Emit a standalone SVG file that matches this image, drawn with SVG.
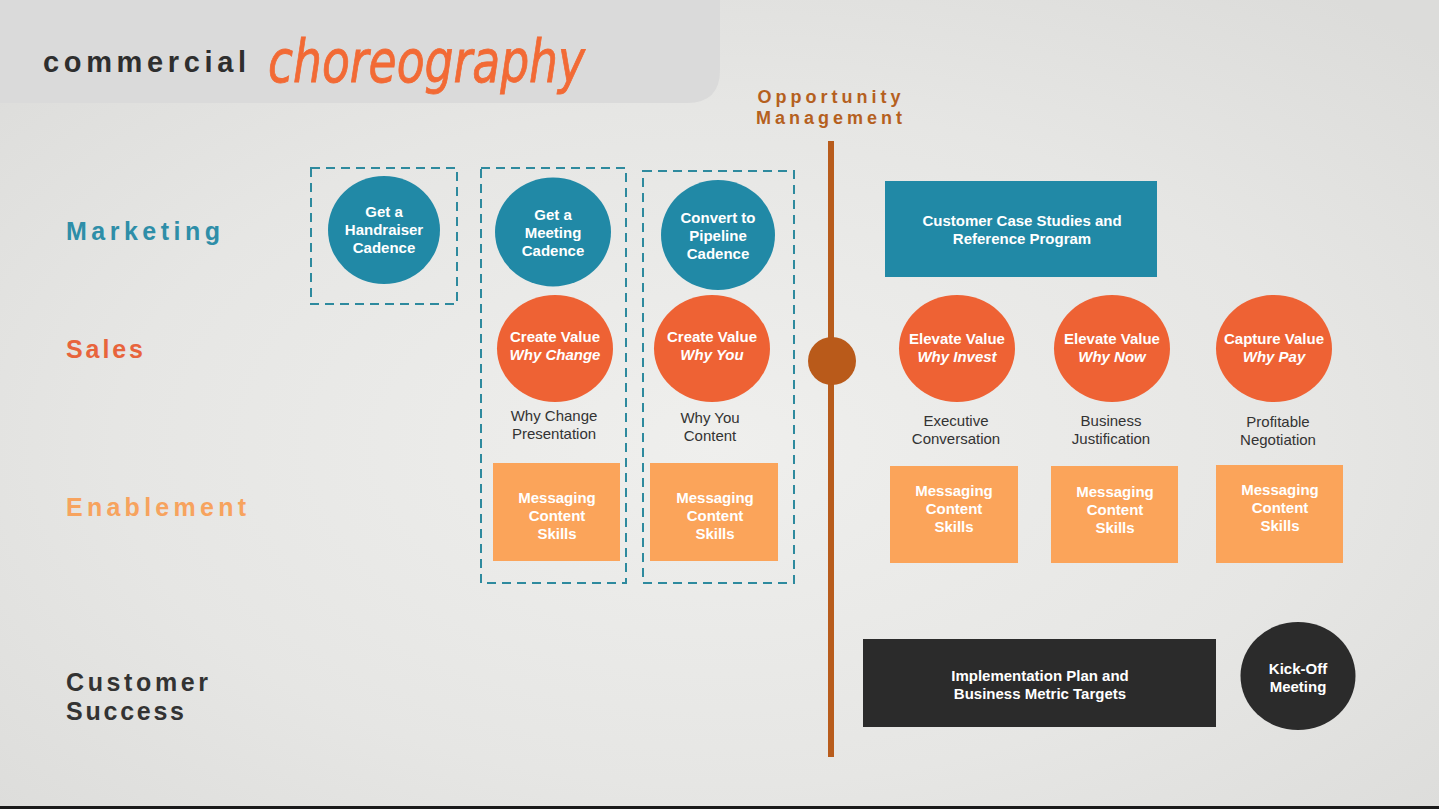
<svg xmlns="http://www.w3.org/2000/svg" width="1439" height="809" viewBox="0 0 1439 809">
<defs>
<radialGradient id="bg" cx="0.5" cy="0.55" r="0.7">
<stop offset="0" stop-color="#efefed"/>
<stop offset="0.6" stop-color="#e6e6e4"/>
<stop offset="1" stop-color="#dcdcda"/>
</radialGradient>
<style>
.t{font-family:"Liberation Sans",Arial,sans-serif;}
.w{fill:#ffffff;font-weight:bold;font-size:15px;text-anchor:middle;}
.wi{font-style:italic;}
.d{fill:#333333;font-size:15px;text-anchor:middle;}
.lane{font-weight:bold;font-size:25px;letter-spacing:4px;}
.teal{fill:#2189a6;}
.org{fill:#ee6234;}
.lt{fill:#fba45a;}
.dk{fill:#2b2b2b;}
.dash{fill:none;stroke:#2e8a9e;stroke-width:2;stroke-dasharray:9,6;}
</style>
</defs>
<rect x="0" y="0" width="1439" height="809" fill="url(#bg)"/>
<path d="M0 0 H720 V70 Q720 103 687 103 H0 Z" fill="#dadada"/>
<rect x="0" y="806" width="1439" height="3" fill="#1a1a1a"/>
<g id="title">
<text class="t" x="43" y="72" font-size="29" font-weight="bold" fill="#2e2e2e" letter-spacing="2" textLength="205">commercial</text>
<text x="268" y="82" font-family="'DejaVu Sans Condensed','DejaVu Sans',sans-serif" font-size="58" font-style="oblique" fill="#f26a35" stroke="#f26a35" stroke-width="0.8" textLength="317" lengthAdjust="spacingAndGlyphs">choreography</text>
</g>
<g id="lanes" class="t">
<text class="lane" x="66" y="240" fill="#2e8ea8" textLength="158">Marketing</text>
<text class="lane" x="66" y="358" fill="#e8643c" textLength="81">Sales</text>
<text class="lane" x="66" y="516" fill="#f7a35e" textLength="184">Enablement</text>
<text class="lane" x="66" y="691" fill="#333333" textLength="146">Customer</text>
<text class="lane" x="66" y="720" fill="#333333" textLength="122">Success</text>
</g>
<g id="connectors">
<rect class="dash" x="311" y="168" width="146" height="136"/>
<rect class="dash" x="481" y="168" width="145" height="415"/>
<rect class="dash" x="643" y="171" width="151" height="412"/>
<rect x="828" y="141" width="6" height="616" fill="#b85c1c"/>
</g>
<g id="opportunity">
<text class="t" x="831" y="103" font-size="18" font-weight="bold" fill="#b5601e" text-anchor="middle" letter-spacing="4">Opportunity</text>
<text class="t" x="831" y="124" font-size="18" font-weight="bold" fill="#b5601e" text-anchor="middle" letter-spacing="4">Management</text>
<circle cx="832" cy="361" r="24" fill="#b95a1a"/>
</g>
<g id="handraiser" class="t">
<ellipse class="teal" cx="384" cy="230" rx="56" ry="54"/>
<text class="w" x="384" y="217">Get a</text>
<text class="w" x="384" y="235">Handraiser</text>
<text class="w" x="384" y="253">Cadence</text>
</g>
<g id="meeting" class="t">
<ellipse class="teal" cx="553" cy="232" rx="58" ry="54.5"/>
<text class="w" x="553" y="220">Get a</text>
<text class="w" x="553" y="238">Meeting</text>
<text class="w" x="553" y="256">Cadence</text>
</g>
<g id="pipeline" class="t">
<ellipse class="teal" cx="718" cy="235" rx="57" ry="55"/>
<text class="w" x="718" y="223">Convert to</text>
<text class="w" x="718" y="241">Pipeline</text>
<text class="w" x="718" y="259">Cadence</text>
</g>
<g id="whychange" class="t">
<ellipse class="org" cx="555" cy="348.5" rx="58" ry="53.5"/>
<text class="w" x="555" y="342">Create Value</text>
<text class="w wi" x="555" y="360">Why Change</text>
<text class="d" x="554" y="421">Why Change</text>
<text class="d" x="554" y="439">Presentation</text>
</g>
<g id="whyyou" class="t">
<ellipse class="org" cx="712" cy="348.5" rx="58" ry="53.5"/>
<text class="w" x="712" y="342">Create Value</text>
<text class="w wi" x="712" y="360">Why You</text>
<text class="d" x="710" y="423">Why You</text>
<text class="d" x="710" y="441">Content</text>
</g>
<g id="whyinvest" class="t">
<ellipse class="org" cx="957" cy="348.5" rx="58" ry="53.5"/>
<text class="w" x="957" y="344">Elevate Value</text>
<text class="w wi" x="957" y="362">Why Invest</text>
<text class="d" x="956" y="426">Executive</text>
<text class="d" x="956" y="444">Conversation</text>
</g>
<g id="whynow" class="t">
<ellipse class="org" cx="1112" cy="348.5" rx="58" ry="53.5"/>
<text class="w" x="1112" y="344">Elevate Value</text>
<text class="w wi" x="1112" y="362">Why Now</text>
<text class="d" x="1111" y="426">Business</text>
<text class="d" x="1111" y="444">Justification</text>
</g>
<g id="whypay" class="t">
<ellipse class="org" cx="1274" cy="348.5" rx="58" ry="53.5"/>
<text class="w" x="1274" y="344">Capture Value</text>
<text class="w wi" x="1274" y="362">Why Pay</text>
<text class="d" x="1278" y="427">Profitable</text>
<text class="d" x="1278" y="445">Negotiation</text>
</g>
<g id="enable1" class="t">
<rect class="lt" x="493" y="463" width="127" height="98"/>
<text class="w" x="557" y="503">Messaging</text>
<text class="w" x="557" y="521">Content</text>
<text class="w" x="557" y="539">Skills</text>
</g>
<g id="enable2" class="t">
<rect class="lt" x="650" y="463" width="128" height="98"/>
<text class="w" x="715" y="503">Messaging</text>
<text class="w" x="715" y="521">Content</text>
<text class="w" x="715" y="539">Skills</text>
</g>
<g id="enable3" class="t">
<rect class="lt" x="890" y="466" width="128" height="97"/>
<text class="w" x="954" y="496">Messaging</text>
<text class="w" x="954" y="514">Content</text>
<text class="w" x="954" y="532">Skills</text>
</g>
<g id="enable4" class="t">
<rect class="lt" x="1051" y="466" width="127" height="97"/>
<text class="w" x="1115" y="497">Messaging</text>
<text class="w" x="1115" y="515">Content</text>
<text class="w" x="1115" y="533">Skills</text>
</g>
<g id="enable5" class="t">
<rect class="lt" x="1216" y="465" width="127" height="98"/>
<text class="w" x="1280" y="495">Messaging</text>
<text class="w" x="1280" y="513">Content</text>
<text class="w" x="1280" y="531">Skills</text>
</g>
<g id="casestudies" class="t">
<rect class="teal" x="885" y="181" width="272" height="96"/>
<text class="w" x="1022" y="226">Customer Case Studies and</text>
<text class="w" x="1022" y="244">Reference Program</text>
</g>
<g id="implementation" class="t">
<rect class="dk" x="863" y="639" width="353" height="88"/>
<text class="w" x="1040" y="681">Implementation Plan and</text>
<text class="w" x="1040" y="699">Business Metric Targets</text>
</g>
<g id="kickoff" class="t">
<ellipse class="dk" cx="1298" cy="676" rx="57.5" ry="54"/>
<text class="w" x="1298" y="674">Kick-Off</text>
<text class="w" x="1298" y="692">Meeting</text>
</g>
</svg>
